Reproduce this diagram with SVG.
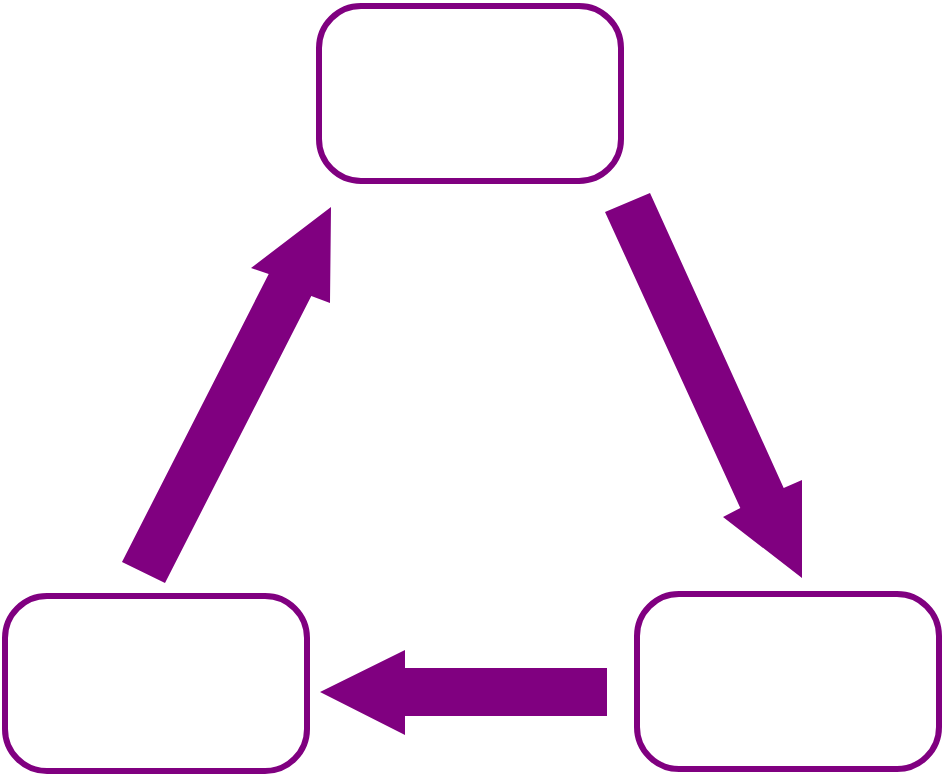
<svg xmlns="http://www.w3.org/2000/svg" width="944" height="776" viewBox="0 0 944 776">
<style>.box{fill:#fff;stroke:#800080;stroke-width:6}.arr{fill:#800080}</style>
<rect width="944" height="776" fill="#fff"/>
<g id="top"><rect class="box" x="319" y="6" width="302" height="175" rx="42"/></g>
<g id="left"><rect class="box" x="5" y="596" width="302" height="175" rx="42"/></g>
<g id="right"><rect class="box" x="637" y="594" width="302" height="175" rx="42"/></g>
<g id="connectors">
<polygon class="arr" points="607,668 405,668 405,650 320,692 405,735 405,716 607,716"/>
<polygon class="arr" points="122,562 268.7,274 251,268 331,207 330,303 311.3,296 165,583"/>
<polygon class="arr" points="605,212 740.3,508.1 723,517 802,578 802,480 783.7,487.9 650,193"/>
</g>
</svg>
